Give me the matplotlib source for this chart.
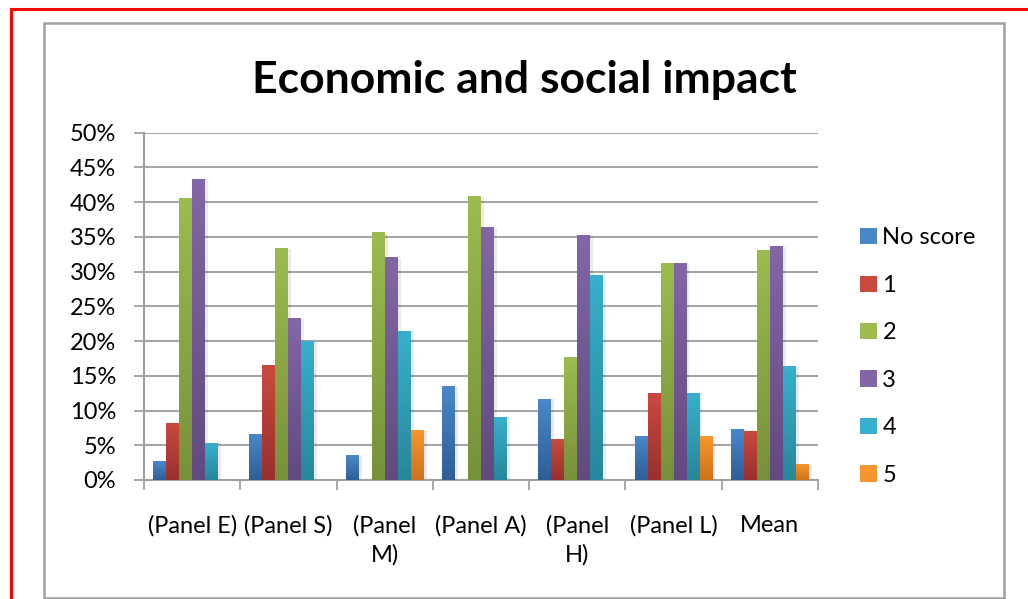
import numpy as np
import matplotlib
matplotlib.use('Agg')
from matplotlib import pyplot as plt
from matplotlib.colors import LinearSegmentedColormap
from matplotlib.patches import Rectangle, Patch
from matplotlib.lines import Line2D

plt.rcParams['font.family'] = ['Lato', 'DejaVu Sans']

categories = ["(Panel E)", "(Panel S)", "(Panel\nM)", "(Panel A)", "(Panel\nH)", "(Panel L)", "Mean"]
series = ["No score", "1", "2", "3", "4", "5"]
no_score = [2.6, 6.6, 3.5, 13.5, 11.6, 6.2, 7.3]
score1 = [8.1, 16.5, 0.0, 0.0, 5.8, 12.4, 7.0]
score2 = [40.5, 33.3, 35.6, 40.8, 17.6, 31.2, 33.1]
score3 = [43.3, 23.2, 32.0, 36.3, 35.2, 31.2, 33.6]
score4 = [5.3, 19.9, 21.4, 9.0, 29.4, 12.5, 16.3]
score5 = [0.0, 0.0, 7.1, 0.0, 0.0, 6.2, 2.2]
values = [no_score, score1, score2, score3, score4, score5]

# top / bottom colours of the gradient fills
tops = ['#4a87c9', '#c9493f', '#9dbb4e', '#8266a6', '#36b0cc', '#f7962e']
bottoms = ['#2f5e96', '#9a302c', '#76913a', '#624a80', '#27879b', '#d0721c']

fig = plt.figure(figsize=(10.28, 5.99), dpi=100)
ax = fig.add_axes([144/1028, 1-480/599, (818-144)/1028, (480-132.6)/599])

n = len(series)
w = 0.135
x = np.arange(len(categories))
grad = np.linspace(0, 1, 100).reshape(-1, 1)
for i, (vals, t, b) in enumerate(zip(values, tops, bottoms)):
    cmap = LinearSegmentedColormap.from_list('c%d' % i, [b, t])
    for xi, v in zip(x, vals):
        if v <= 0:
            continue
        x0 = xi + (i - n / 2) * w
        ax.add_patch(Rectangle((x0 + w, 0), w * 0.22, v, color='#000000', alpha=0.08,
                               lw=0, zorder=2))
        ax.imshow(grad, extent=[x0, x0 + w, 0, v], aspect='auto', cmap=cmap,
                  origin='lower', zorder=3, vmin=0, vmax=1)

ax.set_xlim(-0.5, len(categories) - 0.5)
ax.set_ylim(0, 50)
ax.set_yticks(np.arange(0, 51, 5))
ax.set_yticklabels(['%d%%' % v for v in range(0, 51, 5)], fontsize=17)
ax.set_xticks(x)
ax.set_xticklabels(categories, fontsize=17, linespacing=1.45)
ax.set_xticks(np.arange(-0.5, len(categories)), minor=True)
ax.tick_params(axis='x', which='major', length=0, pad=25)
ax.tick_params(axis='x', which='minor', length=7, color='#a0a0a0', width=1.3)
ax.tick_params(axis='y', length=7, color='#a0a0a0', width=1.3, pad=13)
ax.grid(axis='y', color='#a6a6a6', lw=1.5, zorder=0)
ax.set_axisbelow(True)
for s in ['top', 'right']:
    ax.spines[s].set_visible(False)
for s in ['left', 'bottom']:
    ax.spines[s].set_color('#a0a0a0')
    ax.spines[s].set_linewidth(1.5)

fig.text(524/1028, 1-80/599, 'Economic and social impact', fontsize=32,
         fontweight='bold', ha='center', va='center')

handles = [Patch(facecolor=c, edgecolor='none') for c in tops]
fig.legend(handles, series, loc='upper left', bbox_to_anchor=(851/1028, 1-218/599),
           frameon=False, fontsize=17, handlelength=0.68, handleheight=0.68,
           handletextpad=0.25, labelspacing=1.12, borderaxespad=0)

# chart frame and outer red border
fig.add_artist(Rectangle((44/1028, 1-598/599), 960/1028, 575/599, fill=False,
                         ec='#a0a0a0', lw=1.8, transform=fig.transFigure))
fig.add_artist(Line2D([11/1028, 11/1028], [0, 1-9/599], color='red', lw=2.2,
                      transform=fig.transFigure))
fig.add_artist(Line2D([11/1028, 1], [1-9/599, 1-9/599], color='red', lw=2.2,
                      transform=fig.transFigure))

fig.savefig('out.png', dpi=100)
